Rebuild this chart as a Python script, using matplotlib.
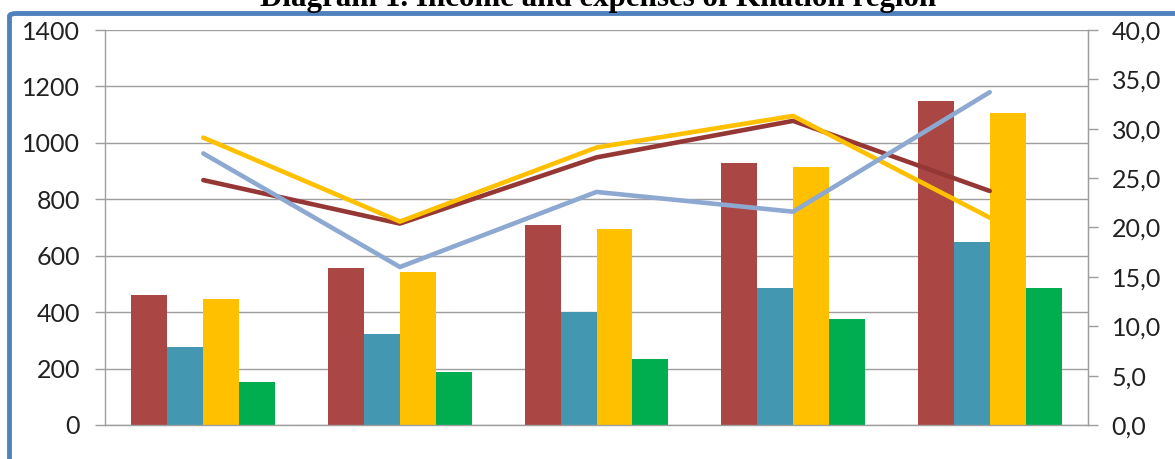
import matplotlib.pyplot as plt
import matplotlib.patches as patches
import numpy as np

# bar series (left axis)
bar_red = [462, 558, 708, 928, 1147]
bar_teal = [278, 321, 402, 485, 650]
bar_yellow = [448, 544, 694, 915, 1107]
bar_green = [152, 187, 233, 376, 485]

# line series (right axis)
line_red = [24.8, 20.4, 27.1, 30.8, 23.7]
line_yellow = [29.1, 20.6, 28.1, 31.3, 21.0]
line_blue = [27.5, 16.0, 23.6, 21.6, 33.7]

left_ticks = [0, 200, 400, 600, 800, 1000, 1200, 1400]
right_ticks = [0, 5, 10, 15, 20, 25, 30, 35, 40]
right_labels = ["0,0", "5,0", "10,0", "15,0", "20,0", "25,0", "30,0", "35,0", "40,0"]

title = "Diagram 1. Income and expenses of Khatlon region"

plt.rcParams['font.family'] = ['Lato', 'DejaVu Sans']

fig = plt.figure(figsize=(11.75, 4.59), dpi=100)
ax = fig.add_axes([105/1175, 1 - 425/459, (1088 - 105)/1175, (425 - 30)/459])

x = np.arange(len(bar_red))
w = 0.183
grid_c = '#9e9e9e'

ax.bar(x - 1.5*w, bar_red, w, color='#AA4644', zorder=2)
ax.bar(x - 0.5*w, bar_teal, w, color='#4397B0', zorder=2)
ax.bar(x + 0.5*w, bar_yellow, w, color='#FFC000', zorder=2)
ax.bar(x + 1.5*w, bar_green, w, color='#00AE50', zorder=2)

ax.set_xlim(-0.5, 4.5)
ax.set_ylim(0, 1400)
ax.set_yticks(left_ticks)
ax.set_xticks([])
ax.grid(axis='y', color=grid_c, linewidth=1.0, zorder=0)
ax.set_axisbelow(True)
ax.tick_params(axis='y', direction='out', length=7, width=1, color=grid_c,
               labelsize=18, labelcolor='#222222', pad=11)
ax.spines['top'].set_visible(False)
for s in ['left', 'bottom', 'right']:
    ax.spines[s].set_color(grid_c)
    ax.spines[s].set_linewidth(1.0)

ax2 = ax.twinx()
ax2.plot(x, line_red, color='#953735', linewidth=3.3, solid_capstyle='round', zorder=3)
ax2.plot(x, line_yellow, color='#FFC000', linewidth=3.3, solid_capstyle='round', zorder=3)
ax2.plot(x, line_blue, color='#8EA9D1', linewidth=3.3, solid_capstyle='round', zorder=3)
ax2.set_ylim(0, 40)
ax2.set_yticks(right_ticks)
ax2.set_yticklabels(right_labels)
ax2.tick_params(axis='y', direction='out', length=7, width=1, color=grid_c,
                labelsize=18, labelcolor='#222222', pad=10)
for s in ['top', 'left', 'bottom']:
    ax2.spines[s].set_visible(False)
ax2.spines['right'].set_color(grid_c)

# blue frame around the chart, running off the right and bottom edges
frame = patches.FancyBboxPatch((9.5/1175, -0.1), 1.2, 1.1 - 13.5/459,
                               boxstyle='round,pad=0,rounding_size=0.006',
                               transform=fig.transFigure, fill=False,
                               edgecolor='#4F81BD', linewidth=3.5, clip_on=False)
fig.patches.append(frame)

fig.text(0.509, 1 - 6/459, title, ha='center', va='baseline',
         fontsize=22.3, fontweight='bold', family='Liberation Serif')

fig.savefig('out.png', dpi=100)
